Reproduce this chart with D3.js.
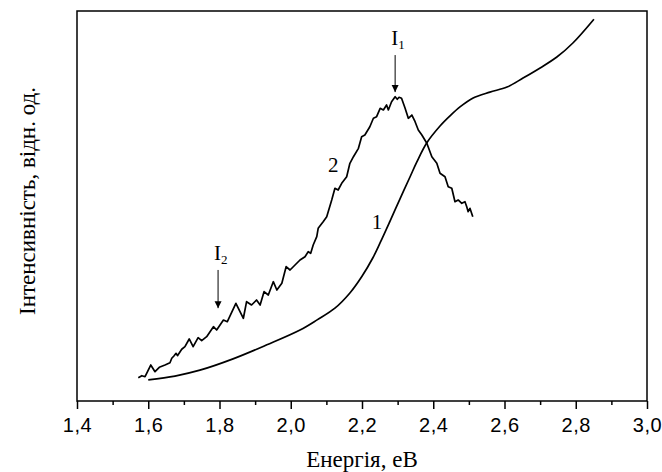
<!DOCTYPE html>
<html><head><meta charset="utf-8">
<script src="https://cdn.jsdelivr.net/npm/d3@7"></script>
<style>body{margin:0;background:#fff}svg{display:block}</style>
</head><body>
<script>
// ---- data ----
const xTicks = [1.4,1.6,1.8,2.0,2.2,2.4,2.6,2.8,3.0];
const xMinorTicks = [1.5,1.7,1.9,2.1,2.3,2.5,2.7,2.9];
const xTitle = "Енергія, еВ";
const yTitle = "Інтенсивність, відн. од.";
// curve 1 (smooth)
const energy1 = [1.600,1.675,1.745,1.838,1.933,2.026,2.074,2.124,2.166,2.200,2.231,2.251,2.279,2.307,2.335,2.354,2.382,2.419,2.447,2.475,2.512,2.559,2.607,2.652,2.700,2.747,2.792,2.851];
const intensity1 = [5.4,6.4,7.9,10.8,14.4,18.2,20.8,23.8,27.7,32.0,36.8,40.6,46.2,51.9,57.5,61.3,66.2,70.5,73.1,75.4,77.7,79.2,80.5,82.8,85.4,88.2,91.8,97.9];
// curve 2 (noisy)
const energy2 = [1.572,1.582,1.591,1.607,1.619,1.631,1.647,1.661,1.666,1.672,1.678,1.682,1.694,1.703,1.715,1.726,1.740,1.750,1.764,1.783,1.792,1.811,1.822,1.846,1.867,1.876,1.890,1.904,1.914,1.925,1.937,1.951,1.961,1.975,1.987,1.998,2.012,2.026,2.040,2.049,2.056,2.063,2.073,2.077,2.091,2.101,2.115,2.124,2.133,2.143,2.157,2.166,2.176,2.190,2.199,2.208,2.222,2.232,2.241,2.251,2.260,2.269,2.274,2.283,2.293,2.299,2.304,2.311,2.321,2.330,2.340,2.349,2.358,2.368,2.382,2.396,2.410,2.419,2.433,2.442,2.452,2.461,2.470,2.480,2.489,2.494,2.498,2.503,2.511];
const intensity2 = [5.97,6.49,6.23,9.23,7.51,8.64,9.23,9.82,10.95,11.54,12.23,11.62,13.26,13.92,15.9,13.92,16.23,15.46,16.49,19.05,18.21,20.77,20.33,25.05,21.21,25.46,24.62,25.9,24.62,28.03,27.18,30.59,28.46,30.18,34.44,33.59,34.87,36.15,37.0,38.28,37.87,40.0,42.13,44.28,45.97,47.26,51.54,54.54,54.1,55.82,57.51,60.95,62.64,64.79,67.77,68.21,70.33,72.49,72.9,75.05,74.62,75.9,74.62,76.74,78.03,77.36,77.87,77.62,75.05,72.49,73.33,71.62,69.49,68.21,66.08,62.64,60.95,58.38,57.51,54.95,54.54,51.1,51.54,50.69,51.1,49.82,48.54,49.41,47.26];
// annotations (data coords)
const arrows = [
  {label:"I", sub:"1", e:2.293, top:88.7, tip:79.2, labelV:91.3},
  {label:"I", sub:"2", e:1.796, top:33.6, tip:23.8, labelV:36.2}
];
const curveLabels = [{text:"2", e:2.119, v:58.7},{text:"1", e:2.242, v:44.1}];

// ---- layout ----
const W=662,H=472;
const m={left:77,right:15,top:11,bottom:71};
const svg=d3.select("body").append("svg").attr("width",W).attr("height",H);
const x=d3.scaleLinear().domain([1.4,3.0]).range([m.left,W-m.right]);
const y=d3.scaleLinear().domain([0,100]).range([H-m.bottom,m.top]);

// frame
svg.append("rect").attr("x",m.left).attr("y",m.top)
  .attr("width",W-m.right-m.left).attr("height",H-m.bottom-m.top)
  .attr("fill","none").attr("stroke","#000").attr("stroke-width",1.5);

// x axis major
const gx=svg.append("g").attr("transform",`translate(0,${H-m.bottom})`)
  .call(d3.axisBottom(x).tickValues(xTicks).tickSize(8).tickPadding(9)
    .tickFormat(d=>d3.format(".1f")(d).replace(".",",")));
gx.select(".domain").remove();
gx.selectAll(".tick line").attr("stroke","#000").attr("stroke-width",1.5);
gx.selectAll(".tick text").attr("font-family","'Liberation Sans',Arial,sans-serif")
  .attr("font-size",20).attr("fill","#000").attr("letter-spacing","0.6px");
// minor
const gm=svg.append("g").attr("transform",`translate(0,${H-m.bottom})`)
  .call(d3.axisBottom(x).tickValues(xMinorTicks).tickSize(4).tickFormat(""));
gm.select(".domain").remove();
gm.selectAll(".tick line").attr("stroke","#000").attr("stroke-width",1.5);

// titles
svg.append("text").attr("x",362).attr("y",467).attr("text-anchor","middle")
  .attr("font-family","'Liberation Serif','Times New Roman',serif").attr("font-size",23)
  .text(xTitle);
svg.append("text").attr("transform","translate(35,201) rotate(-90)").attr("text-anchor","middle")
  .attr("font-family","'Liberation Serif','Times New Roman',serif").attr("font-size",23)
  .text(yTitle);

// curves
const line1=d3.line().x((d,i)=>x(energy1[i])).y(d=>y(d)).curve(d3.curveCatmullRom.alpha(0.5));
svg.append("path").attr("d",line1(intensity1)).attr("fill","none").attr("stroke","#000").attr("stroke-width",1.7);
const line2=d3.line().x((d,i)=>x(energy2[i])).y(d=>y(d));
svg.append("path").attr("d",line2(intensity2)).attr("fill","none").attr("stroke","#000").attr("stroke-width",1.7).attr("stroke-linejoin","round");

// arrows
const defs=svg.append("defs");
defs.append("marker").attr("id","ah").attr("viewBox","0 0 10 10").attr("refX",10).attr("refY",5)
  .attr("markerWidth",7).attr("markerHeight",9).attr("markerUnits","userSpaceOnUse").attr("orient","auto")
  .append("path").attr("d","M0,0 L10,5 L0,10 Z").attr("fill","#000");
arrows.forEach(a=>{
  svg.append("line").attr("x1",x(a.e)).attr("x2",x(a.e)).attr("y1",y(a.top)).attr("y2",y(a.tip))
    .attr("stroke","#000").attr("stroke-width",1).attr("marker-end","url(#ah)");
  const t=svg.append("text").attr("x",x(a.e)-4).attr("y",y(a.labelV))
    .attr("font-family","'Liberation Serif','Times New Roman',serif").attr("font-size",21);
  t.append("tspan").text(a.label);
  t.append("tspan").attr("font-size",13).attr("dy",4).text(a.sub);
});
curveLabels.forEach(c=>{
  svg.append("text").attr("x",x(c.e)).attr("y",y(c.v)).attr("text-anchor","middle")
    .attr("font-family","'Liberation Serif','Times New Roman',serif").attr("font-size",21).text(c.text);
});
</script>
</body></html>
